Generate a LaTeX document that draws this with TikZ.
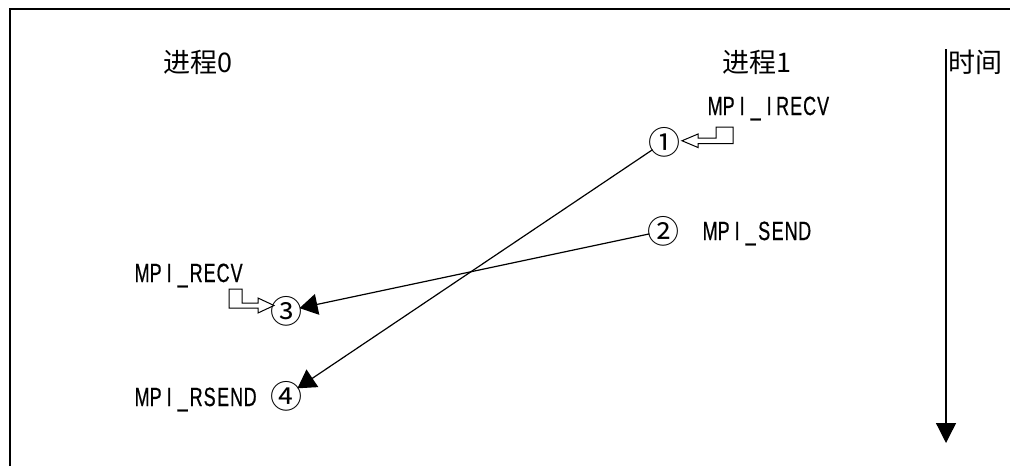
\documentclass[tikz,border=0pt]{standalone}
\usepackage{fontspec}
\usetikzlibrary{arrows.meta}
\newfontfamily\cjkf{Noto Sans CJK SC}
\newfontfamily\mpif[FakeStretch=0.68,FakeBold=0.6]{Liberation Sans}
\newcommand\mcell[1]{\makebox[6.75pt]{#1}}
\def\monoA#1{\ifx#1\relax\else\mcell{#1}\expandafter\monoA\fi}
\newcommand\mono[1]{\monoA#1\relax}
\tikzset{
  cjklabel/.style={font=\cjkf\fontsize{13.5pt}{15pt}\selectfont, inner sep=0pt},
  mpilabel/.style={font=\mpif\fontsize{13.2pt}{14pt}\selectfont, inner sep=0pt, anchor=base west},
  circnum/.style={font=\cjkf\fontsize{16pt}{18pt}\selectfont, shape=circle, inner sep=-3pt},
  msg/.style={draw, line width=0.6pt, -{Triangle[length=9pt,width=10.5pt]}},
  timeaxis/.style={draw, line width=0.65pt, -{Triangle[length=10pt,width=10pt]}},
  frame/.style={draw, line width=0.75pt},
  hollow/.style={draw, line width=0.5pt, fill=white, line join=miter},
}
\begin{document}
\begin{tikzpicture}[x=0.5pt,y=-0.5pt]
\useasboundingbox (0,0) rectangle (1010,466);
% partial frame
\draw[frame] (10,466) -- (10,9) -- (1010,9);
% headers
\node[cjklabel] (p0) at (198,62) {进程0};
\node[cjklabel] (p1) at (757,62) {进程1};
\node[cjklabel, anchor=west] (time) at (948,62) {时间};
% time axis
\coordinate (ttop) at (946,49);
\coordinate (tbot) at (946,443);
\draw[timeaxis] (ttop) -- (tbot);
% labels
\node[mpilabel] (irecv) at (708,115) {\mono{MPI\_IRECV}};
\node[mpilabel] (send)  at (703,240) {\mono{MPI\_SEND}};
\node[mpilabel] (recv)  at (135,282) {\mono{MPI\_RECV}};
\node[mpilabel] (rsend) at (135,406) {\mono{MPI\_RSEND}};
% circled numbers
\node[circnum] (c1) at (664,142) {①};
\node[circnum] (c2) at (663,231) {②};
\node[circnum] (c3) at (286,311) {③};
\node[circnum] (c4) at (286,396) {④};
% messages
\draw[msg] (c2) -- (c3);
\draw[msg] (c1) -- (c4);
% hollow bent arrows
\draw[hollow] (682,140.75) -- (698,134) -- (698,138) -- (716,138) -- (716,127)
  -- (733,127) -- (733,143.5) -- (698,143.5) -- (698,147.5) -- cycle;
\draw[hollow] (229,289) -- (242,289) -- (242,303) -- (258,303) -- (258,298)
  -- (274,305.5) -- (258,313) -- (258,308) -- (229,308) -- cycle;
\end{tikzpicture}
\end{document}
